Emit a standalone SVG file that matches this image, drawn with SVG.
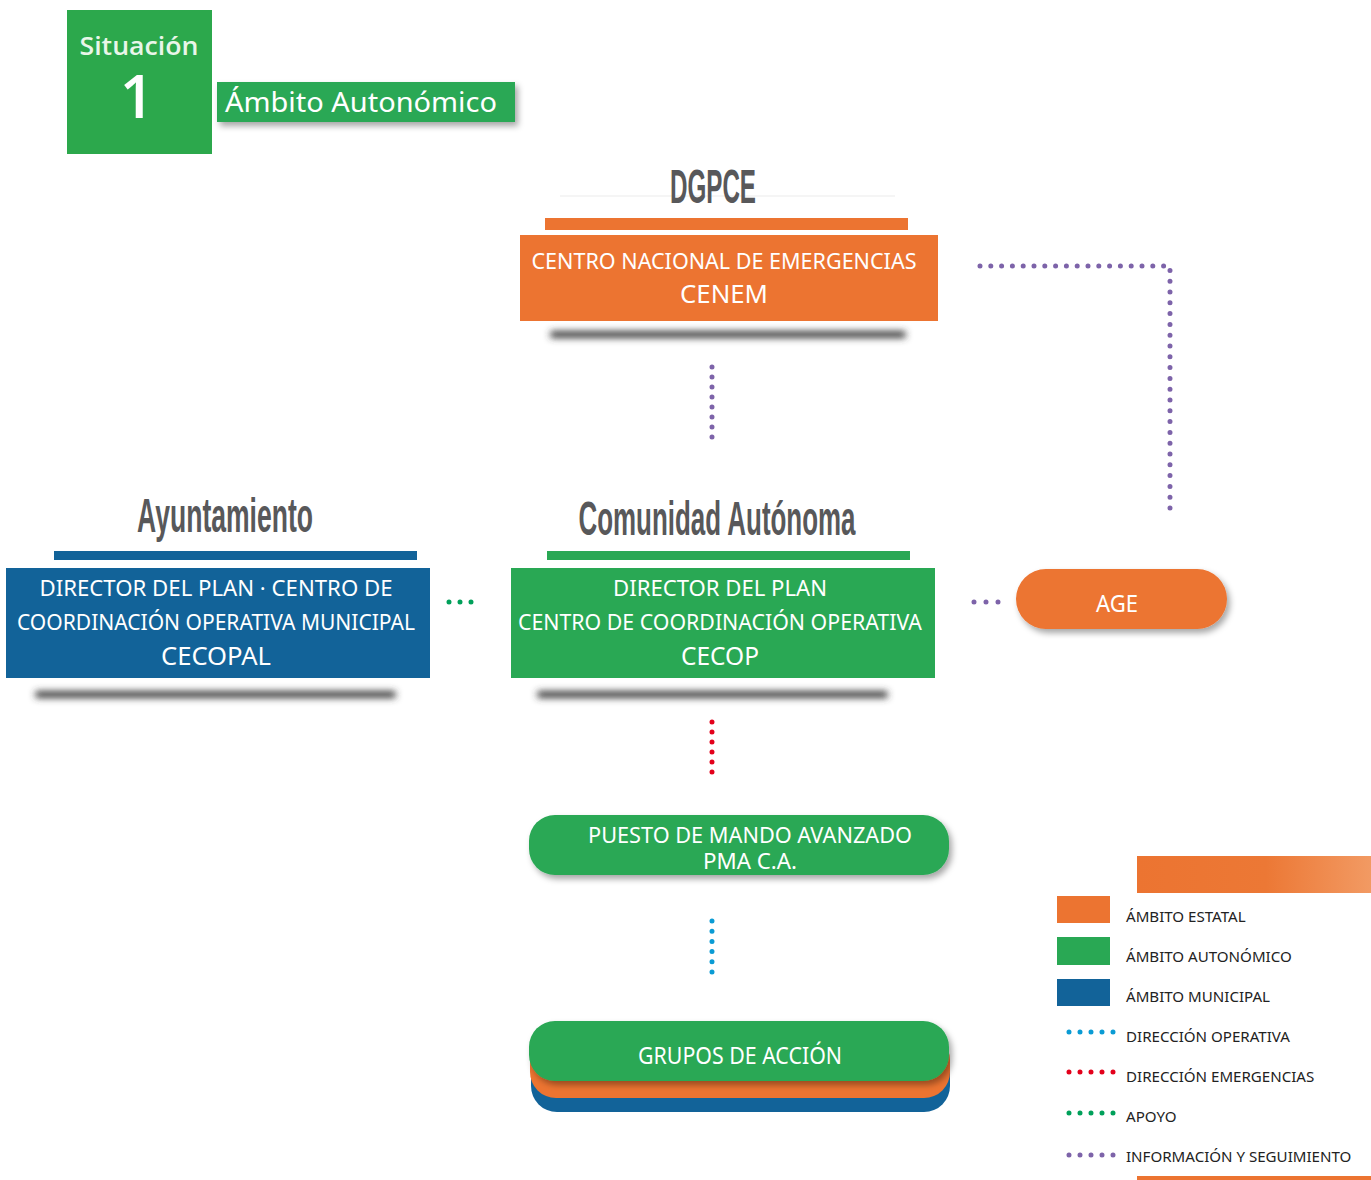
<svg xmlns="http://www.w3.org/2000/svg" width="1371" height="1180" viewBox="0 0 1371 1180">
<defs>
<style>
.t{font-family:"Noto Sans","Open Sans",sans-serif;fill:#fff}
.h{font-family:"Liberation Sans",Arial,sans-serif;font-weight:bold;fill:#58585a}
.lg{font-family:"Noto Sans","Open Sans",sans-serif;fill:#222;font-size:15.1px}
.or{fill:#ec7431}.gr{fill:#29a854}.bl{fill:#126399}
.dp{stroke:#7d63a9;stroke-width:5;stroke-linecap:round;fill:none}
.dr{stroke:#e3001b;stroke-width:5;stroke-linecap:round;fill:none}
.db{stroke:#0a9bd4;stroke-width:5;stroke-linecap:round;fill:none}
.dg{stroke:#00a05a;stroke-width:5;stroke-linecap:round;fill:none}
</style>
<filter id="blur" x="-10%" y="-200%" width="120%" height="500%"><feGaussianBlur stdDeviation="3.5"/></filter>
<filter id="ds" x="-10%" y="-20%" width="125%" height="160%"><feDropShadow dx="3" dy="4" stdDeviation="3" flood-color="#000" flood-opacity="0.35"/></filter>
<linearGradient id="lgo" x1="0" x2="1" y1="0" y2="0"><stop offset="0" stop-color="#ec7431"/><stop offset="0.55" stop-color="#ec7835"/><stop offset="1" stop-color="#f29a63"/></linearGradient>
</defs>

<g id="header">
<rect x="67" y="10" width="145" height="144" fill="#2ca84c"/>
<text x="139" y="55" text-anchor="middle" style="font-family:'Open Sans','Noto Sans',sans-serif;font-weight:600;font-size:25px;fill:#e9f6e9" textLength="119" lengthAdjust="spacingAndGlyphs">Situación</text>
<text x="137" y="118" text-anchor="middle" style="font-family:'Open Sans','Noto Sans',sans-serif;font-weight:600;font-size:60px;fill:#fff">1</text>
<rect x="217" y="82" width="298" height="40" class="gr" filter="url(#ds)"/>
<text x="225" y="112" class="t" style="font-size:28px" textLength="272" lengthAdjust="spacingAndGlyphs">Ámbito Autonómico</text>
</g>

<g id="connectors">
<line x1="712" y1="367" x2="712" y2="437.5" class="dp" stroke-dasharray="0 10"/>
<path d="M980 266 H1170 V508.5" class="dp" stroke-dasharray="0 10.8"/>
<line x1="449" y1="602" x2="471.5" y2="602" class="dg" stroke-dasharray="0 11"/>
<line x1="974" y1="602" x2="998.5" y2="602" class="dp" stroke-dasharray="0 12"/>
<line x1="712" y1="722" x2="712" y2="772.5" class="dr" stroke-dasharray="0 10"/>
<line x1="712" y1="921" x2="712" y2="972.5" class="db" stroke-dasharray="0 10.2"/>
</g>

<g id="dgpce">
<line x1="560" y1="196" x2="895" y2="196" stroke="#f2f2f2" stroke-width="1.5"/>
<text x="713" y="203" text-anchor="middle" class="h" style="font-size:48px" textLength="86" lengthAdjust="spacingAndGlyphs">DGPCE</text>
<rect x="545" y="218" width="363" height="12" class="or"/>
<rect x="550" y="331" width="356" height="7" rx="3.5" fill="#3a3a3a" filter="url(#blur)"/>
<rect x="520" y="235" width="418" height="86" class="or"/>
<text x="724" y="269" text-anchor="middle" class="t" style="font-size:22px" textLength="385" lengthAdjust="spacingAndGlyphs">CENTRO NACIONAL DE EMERGENCIAS</text>
<text x="724" y="303" text-anchor="middle" class="t" style="font-size:26px" textLength="88" lengthAdjust="spacingAndGlyphs">CENEM</text>
</g>

<g id="ayuntamiento">
<text x="225" y="532" text-anchor="middle" class="h" style="font-size:48px" textLength="176" lengthAdjust="spacingAndGlyphs">Ayuntamiento</text>
<rect x="54" y="551" width="363" height="9" class="bl"/>
<rect x="35" y="691" width="361" height="7" rx="3.5" fill="#3a3a3a" filter="url(#blur)"/>
<rect x="6" y="568" width="424" height="110" class="bl"/>
<text x="216" y="596" text-anchor="middle" class="t" style="font-size:22px" textLength="353" lengthAdjust="spacingAndGlyphs">DIRECTOR DEL PLAN · CENTRO DE</text>
<text x="216" y="630" text-anchor="middle" class="t" style="font-size:22px" textLength="398" lengthAdjust="spacingAndGlyphs">COORDINACIÓN OPERATIVA MUNICIPAL</text>
<text x="216" y="665" text-anchor="middle" class="t" style="font-size:26px" textLength="110" lengthAdjust="spacingAndGlyphs">CECOPAL</text>
</g>

<g id="comunidad">
<text x="717" y="535" text-anchor="middle" class="h" style="font-size:48px" textLength="277" lengthAdjust="spacingAndGlyphs">Comunidad Autónoma</text>
<rect x="547" y="551" width="363" height="9" class="gr"/>
<rect x="537" y="691" width="351" height="7" rx="3.5" fill="#3a3a3a" filter="url(#blur)"/>
<rect x="511" y="568" width="424" height="110" class="gr"/>
<text x="720" y="596" text-anchor="middle" class="t" style="font-size:22px" textLength="214" lengthAdjust="spacingAndGlyphs">DIRECTOR DEL PLAN</text>
<text x="720" y="630" text-anchor="middle" class="t" style="font-size:22px" textLength="404" lengthAdjust="spacingAndGlyphs">CENTRO DE COORDINACIÓN OPERATIVA</text>
<text x="720" y="665" text-anchor="middle" class="t" style="font-size:26px" textLength="78" lengthAdjust="spacingAndGlyphs">CECOP</text>
</g>

<g id="age">
<rect x="1016" y="569" width="211" height="60" rx="30" class="or" filter="url(#ds)"/>
<text x="1117" y="612" text-anchor="middle" class="t" style="font-size:24px" textLength="42" lengthAdjust="spacingAndGlyphs">AGE</text>
</g>

<g id="pma">
<rect x="529" y="815" width="420" height="60" rx="26" class="gr" filter="url(#ds)"/>
<text x="750" y="843" text-anchor="middle" class="t" style="font-size:21px" textLength="324" lengthAdjust="spacingAndGlyphs">PUESTO DE MANDO AVANZADO</text>
<text x="750" y="869" text-anchor="middle" class="t" style="font-size:21px" textLength="94" lengthAdjust="spacingAndGlyphs">PMA C.A.</text>
</g>

<g id="grupos">
<rect x="531" y="1046" width="419" height="66" rx="26" class="bl"/>
<rect x="530" y="1034" width="420" height="64" rx="26" class="or"/>
<rect x="529" y="1021" width="420" height="60" rx="26" class="gr" filter="url(#ds)"/>
<text x="740" y="1064" text-anchor="middle" class="t" style="font-size:24px" textLength="204" lengthAdjust="spacingAndGlyphs">GRUPOS DE ACCIÓN</text>
</g>

<g id="legend">
<rect x="1137" y="856" width="234" height="37" fill="url(#lgo)"/>
<rect x="1057" y="896" width="53" height="27" class="or"/>
<rect x="1057" y="937" width="53" height="28" class="gr"/>
<rect x="1057" y="979" width="53" height="27" class="bl"/>
<text x="1126" y="922" class="lg">ÁMBITO ESTATAL</text>
<text x="1126" y="962" class="lg">ÁMBITO AUTONÓMICO</text>
<text x="1126" y="1002" class="lg">ÁMBITO MUNICIPAL</text>
<text x="1126" y="1042" class="lg">DIRECCIÓN OPERATIVA</text>
<text x="1126" y="1082" class="lg">DIRECCIÓN EMERGENCIAS</text>
<text x="1126" y="1122" class="lg">APOYO</text>
<text x="1126" y="1162" class="lg">INFORMACIÓN Y SEGUIMIENTO</text>
<line x1="1069" y1="1032" x2="1113.5" y2="1032" class="db" stroke-width="4" stroke-dasharray="0 11"/>
<line x1="1069" y1="1072" x2="1113.5" y2="1072" class="dr" stroke-width="4" stroke-dasharray="0 11"/>
<line x1="1069" y1="1113" x2="1113.5" y2="1113" class="dg" stroke-width="4" stroke-dasharray="0 11"/>
<line x1="1069" y1="1155" x2="1113.5" y2="1155" class="dp" stroke-width="4" stroke-dasharray="0 11"/>
<rect x="1137" y="1176" width="234" height="4" class="or"/>
</g>
</svg>
